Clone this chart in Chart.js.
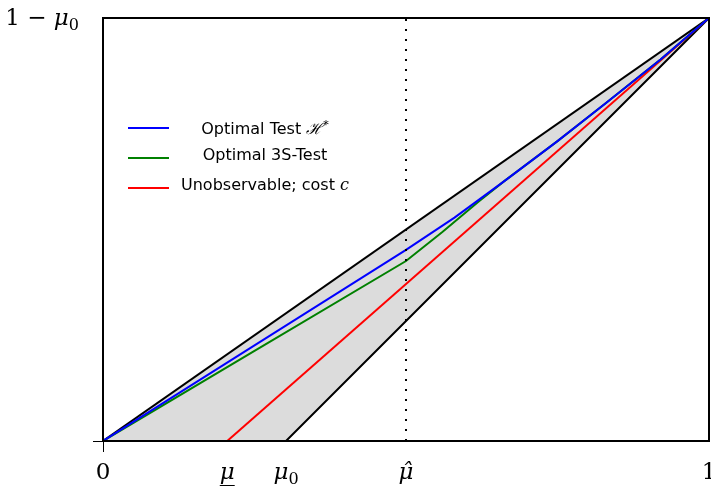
<!DOCTYPE html>
<html>
<head>
<meta charset="utf-8">
<script src="https://cdn.jsdelivr.net/npm/chart.js@4.4.1/dist/chart.umd.min.js"></script>
<style>
    body { margin: 0; background: #fff; }
    #wrap { position: relative; width: 711px; height: 486px; }
    #leyenda { position: absolute; left: 0; top: 0; font-family: "DejaVu Sans", sans-serif; font-size: 16px; color: #000; }
    .fila { position: absolute; left: 128px; width: 240px; height: 20px; }
    .linea { position: absolute; left: 0; top: 9px; width: 41px; height: 2px; }
    .texto { position: absolute; left: 44px; width: 186px; text-align: center; top: -3px; line-height: 20px; white-space: nowrap; }
    .mat { font-family: "DejaVu Serif", serif; font-style: italic; }
</style>
</head>
<body>
<div id="wrap">
    <canvas id="grafico" width="711" height="486"></canvas>
    <div id="leyenda"></div>
</div>
<script>
// --- datos ---
const xTicks = [0, 0.205, 0.302, 0.5, 1];
const xTickLabels = ['0', 'μ\u0332', 'μ₀', 'μ\u0302', '1'];
const yTicks = [0, 1];
const yTickLabels = ['', '1 − μ₀'];

// frontera superior e inferior de la region sombreada
const superiorX = [0, 1];
const superiorY = [0, 1];
const inferiorX = [0, 0.302, 1];
const inferiorY = [0, 0, 1];

// test optimo H*
const azulX = [0, 0.25, 0.5, 0.58, 0.66, 0.75, 0.83, 0.92, 1];
const azulY = [0, 0.226, 0.452, 0.528, 0.612, 0.709, 0.799, 0.902, 1];

// test 3S optimo (se junta con el azul hacia 0.66)
const verdeX = [0, 0.25, 0.5, 0.56, 0.62, 0.66, 0.75, 0.83, 0.92, 1];
const verdeY = [0, 0.213, 0.4255, 0.494, 0.566, 0.612, 0.709, 0.799, 0.902, 1];

// no observable, coste c
const rojoX = [0.205, 1];
const rojoY = [0, 1];

// linea punteada en mu sombrero
const punteadaX = [0.5, 0.5];
const punteadaY = [0, 1];

const etiquetas = ['Optimal Test', 'Optimal 3S-Test', 'Unobservable; cost'];

function pares(xs, ys) {
    return xs.map((x, i) => ({ x: x, y: ys[i] }));
}

function serie(xs, ys, color, orden, extra) {
    return Object.assign({
        data: pares(xs, ys),
        borderColor: color,
        borderWidth: 2,
        pointRadius: 0,
        fill: false,
        tension: 0,
        order: orden
    }, extra || {});
}

// marco negro alrededor del area del grafico
const marco = {
    id: 'marco',
    afterDatasetsDraw(chart) {
        const a = chart.chartArea;
        const ctx = chart.ctx;
        ctx.save();
        ctx.strokeStyle = '#000';
        ctx.lineWidth = 2;
        ctx.strokeRect(a.left, a.top, a.right - a.left, a.bottom - a.top);
        ctx.restore();
    }
};

// etiquetas matematicas: mu en cursiva, subindice 0, subrayado
const FAM = '"DejaVu Serif", serif';
const TAM = 23;

function partesDe(txt) {
    const partes = [];
    let subrayar = false;
    if (txt.includes('\u0332')) { subrayar = true; txt = txt.replace('\u0332', ''); }
    let sub = false;
    if (txt.includes('₀')) { sub = true; txt = txt.replace('₀', ''); }
    const i = txt.indexOf('μ');
    if (i < 0) {
        partes.push({ t: txt, f: `${TAM}px ${FAM}`, dy: 0 });
    } else {
        if (i > 0) partes.push({ t: txt.slice(0, i), f: `${TAM}px ${FAM}`, dy: 0 });
        partes.push({ t: txt.slice(i), f: `italic ${TAM}px ${FAM}`, dy: 0, mu: true });
    }
    if (sub) partes.push({ t: '0', f: `16px ${FAM}`, dy: 5 });
    return { partes, subrayar };
}

function dibujarEtiqueta(ctx, txt, x, base, alinear) {
    const { partes, subrayar } = partesDe(txt);
    let ancho = 0;
    partes.forEach(p => { ctx.font = p.f; p.w = ctx.measureText(p.t).width; ancho += p.w; });
    let cx = alinear === 'right' ? x - ancho : x - ancho / 2;
    partes.forEach(p => {
        ctx.font = p.f;
        ctx.fillText(p.t, cx, base + p.dy);
        if (subrayar && p.mu) ctx.fillRect(cx, base + 6, p.w, 1.5);
        cx += p.w;
    });
}

const etiquetasEjes = {
    id: 'etiquetasEjes',
    afterDraw(chart) {
        const ctx = chart.ctx;
        const sx = chart.scales.x;
        const sy = chart.scales.y;
        ctx.save();
        ctx.fillStyle = '#000';
        ctx.textAlign = 'left';
        ctx.textBaseline = 'alphabetic';
        xTicks.forEach((v, i) => dibujarEtiqueta(ctx, xTickLabels[i], sx.getPixelForValue(v), sx.top + 38, 'center'));
        yTicks.forEach((v, i) => {
            if (yTickLabels[i]) dibujarEtiqueta(ctx, yTickLabels[i], sy.right - 24, sy.getPixelForValue(v) + 7, 'right');
        });
        ctx.restore();
    }
};

const marcaCero = ctx => (ctx.tick && ctx.tick.value === 0) ? '#000' : 'rgba(0,0,0,0)';

const canvas = document.getElementById('grafico');

// order alto = se dibuja primero (debajo)
window.chartPrincipal = new Chart(canvas, {
    type: 'line',
    data: {
        datasets: [
            serie(superiorX, superiorY, '#000', 10, { fill: { target: '+1' }, backgroundColor: '#dcdcdc' }),
            serie(inferiorX, inferiorY, '#000', 9),
            serie(rojoX, rojoY, '#ff0000', 3, { label: etiquetas[2] }),
            serie(verdeX, verdeY, '#008000', 2, { label: etiquetas[1] }),
            serie(azulX, azulY, '#0000ff', 1, { label: etiquetas[0] }),
            serie(punteadaX, punteadaY, '#000', 0, { borderDash: [2, 8] })
        ]
    },
    options: {
        responsive: false,
        animation: false,
        layout: { padding: { top: 18, right: 2, left: 0, bottom: 0 } },
        plugins: { legend: { display: false }, tooltip: { enabled: false } },
        scales: {
            x: {
                type: 'linear', min: 0, max: 1,
                afterBuildTicks: s => { s.ticks = xTicks.map(v => ({ value: v })); },
                afterFit: s => { s.height = 45; s.paddingLeft = 0; s.paddingRight = 0; },
                ticks: { autoSkip: false, maxRotation: 0, callback: () => '' },
                grid: { drawOnChartArea: false, tickLength: 11, tickWidth: 1, tickColor: marcaCero },
                border: { display: false }
            },
            y: {
                type: 'linear', min: 0, max: 1,
                afterBuildTicks: s => { s.ticks = yTicks.map(v => ({ value: v })); },
                afterFit: s => { s.width = 103; s.paddingTop = 0; s.paddingBottom = 0; },
                ticks: { autoSkip: false, callback: () => '' },
                grid: { drawOnChartArea: false, tickLength: 10, tickWidth: 1, tickColor: marcaCero },
                border: { display: false }
            }
        }
    },
    plugins: [marco, etiquetasEjes]
});

// leyenda en html dentro del area del grafico
const filas = [
    { color: '#0000ff', html: etiquetas[0] + ' <span class="mat">ℋ<sup style="font-size:11px">*</sup></span>' },
    { color: '#008000', html: etiquetas[1] },
    { color: '#ff0000', html: etiquetas[2] + ' <span class="mat">c</span>' }
];
document.getElementById('leyenda').innerHTML = filas.map((f, i) => `
    <div class="fila" style="top:${118 + i * 30}px;">
        <div class="linea" style="background:${f.color};"></div>
        <div class="texto">${f.html}</div>
    </div>
`).join('');
</script>
</body>
</html>
